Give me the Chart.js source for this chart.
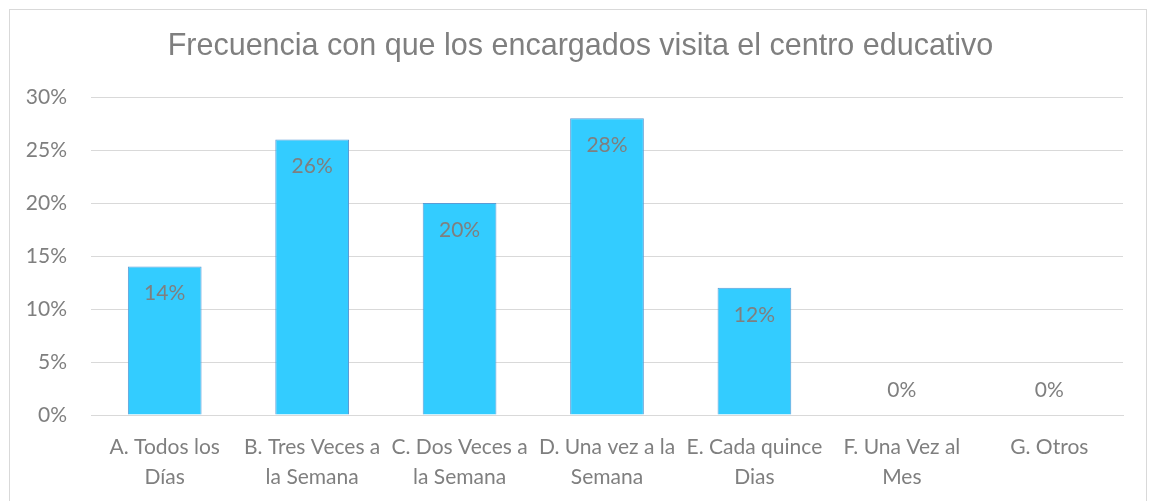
<!DOCTYPE html>
<html>
<head>
<meta charset="utf-8">
<script src="https://cdn.jsdelivr.net/npm/chart.js@4/dist/chart.umd.min.js"></script>
<style>
    body { margin: 0; background: #fff; }
    #frame { position: absolute; left: 9px; top: 9px; width: 1138px; height: 500px; border: 1px solid #d9d9d9; box-sizing: border-box; }
    #wrap { position: absolute; left: 0; top: 0; width: 1149px; height: 501px; }
</style>
</head>
<body>
<div id="frame"></div>
<div id="wrap"><canvas id="chart" width="1149" height="501"></canvas></div>
<script>
/* 데이터 */
var categories = [
    ["A. Todos los", "Días"],
    ["B. Tres Veces a", "la Semana"],
    ["C. Dos Veces a", "la Semana"],
    ["D. Una vez a la", "Semana"],
    ["E. Cada quince", "Dias"],
    ["F. Una Vez al", "Mes"],
    ["G. Otros"]
];
var values = [14, 26, 20, 28, 12, 0, 0];
var yTicks = [0, 5, 10, 15, 20, 25, 30];

var titleText = "Frecuencia con que los encargados visita el centro educativo";
var grey = "#7f7f7f";

/* 제목 (차트 프레임 중앙) */
var frameTitle = {
    id: 'frameTitle',
    afterDraw: function(chart) {
        var ctx = chart.ctx;
        ctx.save();
        ctx.font = '30.5px "Liberation Sans"';
        ctx.fillStyle = grey;
        ctx.textAlign = 'center';
        ctx.textBaseline = 'middle';
        ctx.fillText(titleText, (chart.chartArea.right + 38) / 2, 47);
        ctx.restore();
    }
};

/* 막대 안 라벨 */
var barLabels = {
    id: 'barLabels',
    afterDatasetsDraw: function(chart) {
        var ctx = chart.ctx;
        var meta = chart.getDatasetMeta(0);
        ctx.save();
        ctx.font = '21px Lato';
        ctx.fillStyle = grey;
        ctx.textAlign = 'center';
        ctx.textBaseline = 'middle';
        meta.data.forEach(function(bar, i) {
            var v = values[i];
            var y = v > 0 ? bar.y + 27 : bar.y - 25;
            ctx.fillText(v + '%', bar.x, y);
        });
        ctx.restore();
    }
};

window.onload = function() {
    var ctx = document.getElementById('chart').getContext('2d');
    window.theChart = new Chart(ctx, {
        type: 'bar',
        data: {
            labels: categories,
            datasets: [{
                data: values,
                backgroundColor: '#33ccff',
                borderColor: '#5b9bd5',
                borderWidth: 1,
                barPercentage: 0.5,
                categoryPercentage: 1
            }]
        },
        options: {
            responsive: false,
            animation: false,
            layout: { padding: { left: 0, right: 26, top: 97, bottom: 0 } },
            plugins: {
                legend: { display: false },
                tooltip: { enabled: false },
                title: { display: false }
            },
            scales: {
                x: {
                    grid: { display: false },
                    border: { color: '#d9d9d9', width: 1 },
                    ticks: {
                        color: grey,
                        font: { family: 'Lato', size: 21, lineHeight: 1.43 },
                        padding: 9,
                        maxRotation: 0,
                        autoSkip: false
                    },
                    afterFit: function(scale) { scale.height = 86; }
                },
                y: {
                    min: 0,
                    max: 30,
                    border: { display: false },
                    grid: { color: '#d9d9d9', lineWidth: 1, drawTicks: false },
                    afterBuildTicks: function(scale) {
                        scale.ticks = yTicks.map(function(v) { return { value: v }; });
                    },
                    ticks: {
                        color: grey,
                        font: { family: 'Lato', size: 21 },
                        padding: 24,
                        callback: function(v) { return v + '%'; }
                    },
                    afterFit: function(scale) { scale.width = 91; }
                }
            }
        },
        plugins: [barLabels, frameTitle]
    });
};
</script>
</body>
</html>
